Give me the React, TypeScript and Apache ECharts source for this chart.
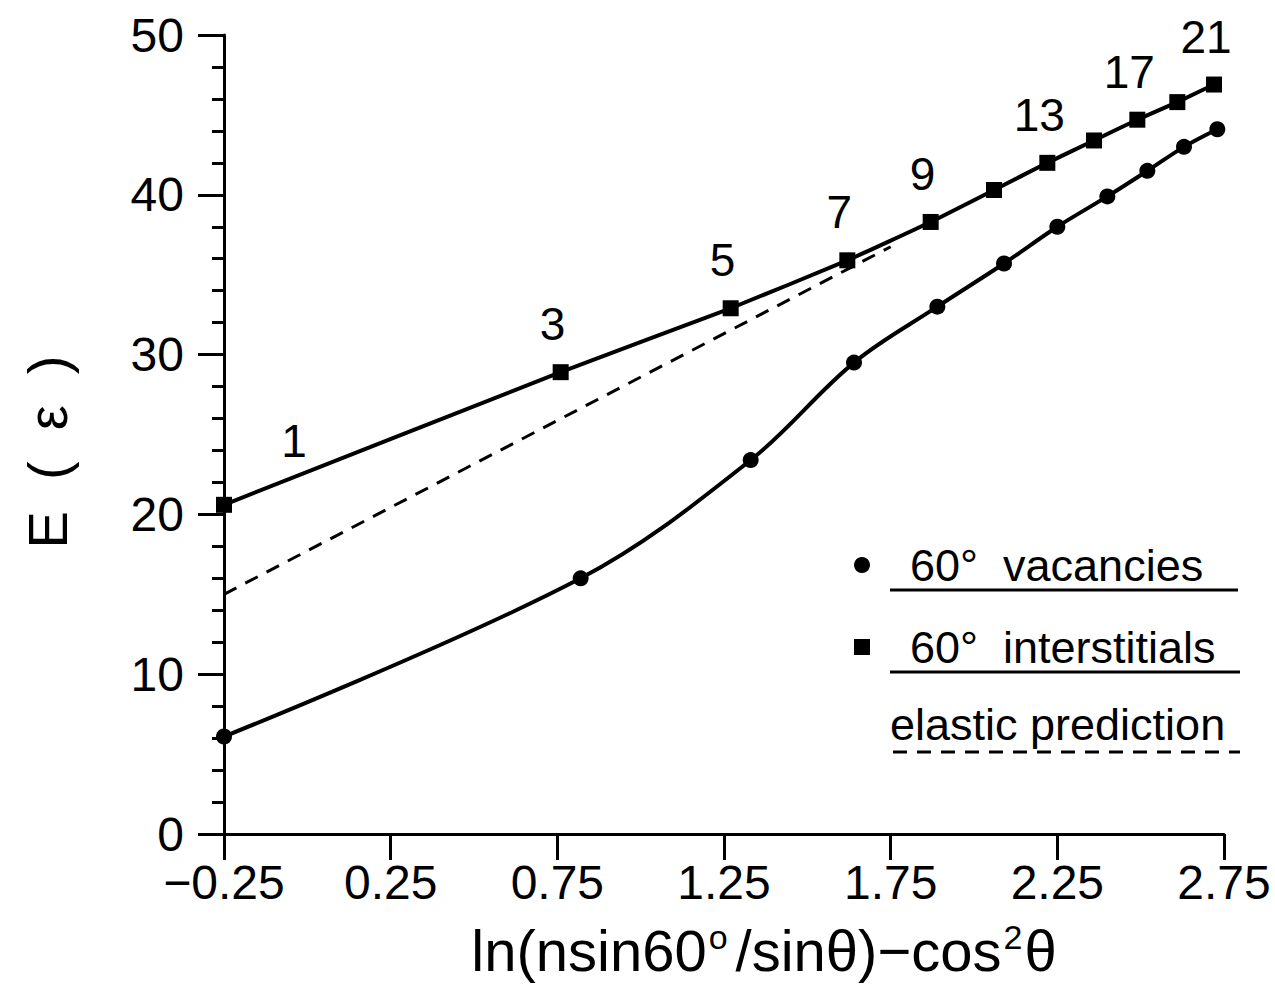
import React, { useEffect, useRef } from "react";
import * as echarts from "echarts";

// n values labelling the interstitial points
const nValues = [1, 3, 5, 7, 9, 11, 13, 15, 17, 19, 21];
const labeledN = [1, 3, 5, 7, 9, 13, 17, 21];

// 60° interstitials (squares)
const interX = [-0.25, 0.76, 1.27, 1.62, 1.87, 2.06, 2.22, 2.36, 2.49, 2.61, 2.72];
const interY = [20.6, 28.9, 32.9, 35.9, 38.3, 40.3, 42.0, 43.4, 44.7, 45.8, 46.9];

// 60° vacancies (circles)
const vacX = [-0.25, 0.82, 1.33, 1.64, 1.89, 2.09, 2.25, 2.4, 2.52, 2.63, 2.73];
const vacY = [6.1, 16.0, 23.4, 29.5, 33.0, 35.7, 38.0, 39.9, 41.5, 43.0, 44.1];

// elastic prediction (dashed straight line)
const elasticX = [-0.25, 1.75];
const elasticY = [15.0, 36.75];

// axis ticks
const xTicks = [-0.25, 0.25, 0.75, 1.25, 1.75, 2.25, 2.75];
const yTicks = [0, 10, 20, 30, 40, 50];

const FONT = "'Liberation Sans', Arial, sans-serif";

export default function App() {
  const ref = useRef<HTMLDivElement>(null);
  useEffect(() => {
    if (!ref.current) return;
    const chart = echarts.init(ref.current, undefined, { renderer: "svg" });
    const fmtX = (v: number) =>
      v < 0 ? "\u2212" + Math.abs(v).toFixed(2) : v.toFixed(2);

    const interData = interX.map((x, i) => {
      const n = nValues[i];
      const show = labeledN.includes(n);
      return {
        value: [x, interY[i]],
        label: {
          show,
          formatter: String(n),
          offset: i === 0 ? [70, -64] : [-8, -48],
        },
      };
    });

    const option: any = {
      animation: false,
      grid: { left: 224, right: 51, top: 35, bottom: 155, outerBoundsMode: "none", containLabel: false },
      xAxis: {
        type: "value",
        min: -0.25,
        max: 2.75,
        axisLine: { onZero: false, lineStyle: { color: "#000", width: 3 } },
        axisTick: {
          customValues: xTicks,
          length: 26,
          lineStyle: { color: "#000", width: 3 },
        },
        axisLabel: {
          customValues: xTicks,
          formatter: fmtX,
          fontSize: 48,
          color: "#000",
          fontFamily: FONT,
          margin: 24,
          showMinLabel: true,
          showMaxLabel: true,
        },
        splitLine: { show: false },
        name: "ln(nsin60{o|o}/sin\u03b8)\u2212cos{s|2}\u03b8",
        nameLocation: "middle",
        nameGap: 86,
        nameTextStyle: {
          fontSize: 58,
          lineHeight: 60,
          color: "#000",
          fontFamily: FONT,
          padding: [0, 0, 0, 80],
          rich: {
            o: { fontSize: 34, lineHeight: 60, verticalAlign: "top", color: "#000", fontFamily: FONT, padding: [0, 8, 0, 2] },
            s: { fontSize: 34, lineHeight: 60, verticalAlign: "top", color: "#000", fontFamily: FONT, padding: [0, 2, 0, 2] },
          },
        },
      },
      yAxis: {
        type: "value",
        min: yTicks[0],
        max: yTicks[yTicks.length - 1],
        interval: 10,
        axisLine: { show: true, onZero: false, lineStyle: { color: "#000", width: 3 } },
        axisTick: { show: true, length: 26, lineStyle: { color: "#000", width: 3 } },
        minorTick: { show: true, splitNumber: 5, length: 12, lineStyle: { color: "#000", width: 3 } },
        axisLabel: { fontSize: 48, color: "#000", fontFamily: FONT, margin: 40 },
        splitLine: { show: false },
      },
      series: [
        {
          name: "elastic prediction",
          type: "line",
          data: elasticX.map((x, i) => [x, elasticY[i]]),
          showSymbol: false,
          symbol: "none",
          lineStyle: { color: "#000", width: 3, type: [14, 10] },
          z: 1,
        },
        {
          name: "60° vacancies",
          type: "line",
          data: vacX.map((x, i) => [x, vacY[i]]),
          smooth: 0.35,
          symbol: "circle",
          symbolSize: 16,
          itemStyle: { color: "#000" },
          lineStyle: { color: "#000", width: 4 },
          z: 3,
        },
        {
          name: "60° interstitials",
          type: "line",
          data: interData,
          smooth: 0.15,
          symbol: "rect",
          symbolSize: 16,
          itemStyle: { color: "#000" },
          lineStyle: { color: "#000", width: 4 },
          label: {
            position: "inside",
            align: "center",
            verticalAlign: "middle",
            fontSize: 46,
            color: "#000",
            fontFamily: FONT,
          },
          z: 3,
        },
      ],
      graphic: [
        {
          type: "text",
          x: 47,
          y: 452,
          rotation: Math.PI / 2,
          style: {
            text: "E  (  \u03b5  )",
            font: `56px ${FONT}`,
            fill: "#000",
            textAlign: "center",
            textVerticalAlign: "middle",
          },
        },
        { type: "circle", shape: { cx: 862, cy: 565, r: 8 }, style: { fill: "#000" } },
        {
          type: "text",
          x: 910,
          y: 565,
          style: { text: "60°  vacancies", font: `45px ${FONT}`, fill: "#000", textVerticalAlign: "middle" },
        },
        { type: "line", shape: { x1: 890, y1: 590, x2: 1238, y2: 590 }, style: { stroke: "#000", lineWidth: 3 } },
        { type: "rect", shape: { x: 854, y: 639, width: 16, height: 16 }, style: { fill: "#000" } },
        {
          type: "text",
          x: 910,
          y: 647,
          style: { text: "60°  interstitials", font: `45px ${FONT}`, fill: "#000", textVerticalAlign: "middle" },
        },
        { type: "line", shape: { x1: 890, y1: 672, x2: 1240, y2: 672 }, style: { stroke: "#000", lineWidth: 3 } },
        {
          type: "text",
          x: 890,
          y: 724,
          style: { text: "elastic prediction", font: `45px ${FONT}`, fill: "#000", textVerticalAlign: "middle" },
        },
        {
          type: "line",
          shape: { x1: 893, y1: 752, x2: 1240, y2: 752 },
          style: { stroke: "#000", lineWidth: 3, lineDash: [14, 10] },
        },
      ],
    };
    chart.setOption(option);
    return () => chart.dispose();
  }, []);
  return (
    <div
      ref={ref}
      style={{ position: "fixed", left: 0, top: 0, width: 1275, height: 989, background: "#fff" }}
    />
  );
}
